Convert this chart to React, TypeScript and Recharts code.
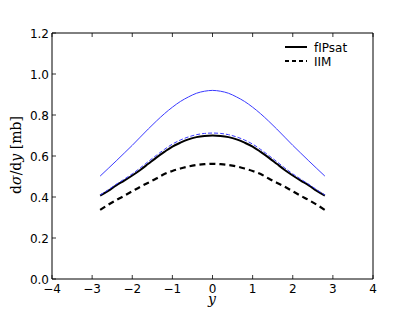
import { LineChart, Line, XAxis, YAxis } from 'recharts';

// rapidity points (x axis)
const rapidity = [-2.8, -2.6, -2.4, -2.2, -2.0, -1.8, -1.6, -1.4, -1.2, -1.0, -0.8, -0.6, -0.4, -0.2, 0, 0.2, 0.4, 0.6, 0.8, 1.0, 1.2, 1.4, 1.6, 1.8, 2.0, 2.2, 2.4, 2.6, 2.8];

// fIPsat (black solid)
const fipsat = [0.407, 0.430, 0.457, 0.480, 0.505, 0.532, 0.562, 0.592, 0.620, 0.646, 0.665, 0.681, 0.692, 0.698, 0.700, 0.698, 0.692, 0.681, 0.665, 0.646, 0.620, 0.592, 0.562, 0.532, 0.505, 0.480, 0.457, 0.430, 0.407];
// IIM (black dashed)
const iim = [0.337, 0.362, 0.385, 0.406, 0.428, 0.450, 0.470, 0.490, 0.512, 0.527, 0.539, 0.549, 0.556, 0.560, 0.562, 0.560, 0.556, 0.549, 0.539, 0.527, 0.512, 0.490, 0.470, 0.450, 0.428, 0.406, 0.385, 0.362, 0.337];
// blue thin solid
const blueSolid = [0.502, 0.539, 0.576, 0.614, 0.652, 0.692, 0.732, 0.770, 0.806, 0.838, 0.866, 0.888, 0.906, 0.916, 0.920, 0.916, 0.906, 0.888, 0.866, 0.838, 0.806, 0.770, 0.732, 0.692, 0.652, 0.614, 0.576, 0.539, 0.502];
// blue thin dashed
const blueDashed = [0.410, 0.435, 0.462, 0.487, 0.513, 0.542, 0.573, 0.603, 0.632, 0.658, 0.678, 0.693, 0.704, 0.710, 0.712, 0.710, 0.704, 0.693, 0.678, 0.658, 0.632, 0.603, 0.573, 0.542, 0.513, 0.487, 0.462, 0.435, 0.410];

const xTicks = [-4, -3, -2, -1, 0, 1, 2, 3, 4];
const yTicks = [0, 0.2, 0.4, 0.6, 0.8, 1.0, 1.2];

const data = rapidity.map((r, i) => ({
  rap: r,
  fipsat: fipsat[i],
  iim: iim[i],
  blueSolid: blueSolid[i],
  blueDashed: blueDashed[i],
}));

const FONT = '"DejaVu Sans", sans-serif';
const fmtX = (v: number) => (v < 0 ? '\u2212' + Math.abs(v) : String(v));

const BottomTick = (props: any) => {
  const { x, y, payload } = props;
  return (
    <g>
      <line x1={x} x2={x} y1={y} y2={y - 4} stroke="#000" strokeWidth={0.8} />
      <text x={x} y={y + 14} textAnchor="middle" fontSize={12} fontFamily={FONT} fill="#000">
        {fmtX(payload.value)}
      </text>
    </g>
  );
};

const TopTick = (props: any) => {
  const { x, y } = props;
  return <line x1={x} x2={x} y1={y} y2={y + 4} stroke="#000" strokeWidth={0.8} />;
};

const LeftTick = (props: any) => {
  const { x, y, payload } = props;
  return (
    <g>
      <line x1={x} x2={x + 4} y1={y} y2={y} stroke="#000" strokeWidth={0.8} />
      <text x={x - 3} y={y + 4.5} textAnchor="end" fontSize={12} fontFamily={FONT} fill="#000">
        {payload.value.toFixed(1)}
      </text>
    </g>
  );
};

const RightTick = (props: any) => {
  const { x, y } = props;
  return <line x1={x} x2={x - 4} y1={y} y2={y} stroke="#000" strokeWidth={0.8} />;
};

export default function App() {
  return (
    <div style={{ position: 'absolute', left: 0, top: 0, width: 415, height: 312, background: '#fff' }}>
      <LineChart width={415} height={312} data={data} margin={{ top: 32, right: 41, bottom: 0, left: 0 }}>
        <XAxis
          dataKey="rap"
          type="number"
          domain={[-4, 4]}
          ticks={xTicks}
          height={33}
          tickSize={0}
          tickMargin={0}
          tickLine={false}
          tick={<BottomTick />}
          axisLine={{ stroke: '#000' }}
          interval={0}
        />
        <XAxis
          xAxisId="top"
          orientation="top"
          dataKey="rap"
          type="number"
          domain={[-4, 4]}
          ticks={xTicks}
          height={1}
          tickSize={0}
          tickMargin={0}
          tickLine={false}
          tick={<TopTick />}
          axisLine={{ stroke: '#000' }}
          interval={0}
        />
        <YAxis
          type="number"
          domain={[0, 1.2]}
          ticks={yTicks}
          width={52}
          tickSize={0}
          tickMargin={0}
          tickLine={false}
          tick={<LeftTick />}
          axisLine={{ stroke: '#000' }}
          interval={0}
        />
        <YAxis
          yAxisId="right"
          orientation="right"
          type="number"
          domain={[0, 1.2]}
          ticks={yTicks}
          width={1}
          tickSize={0}
          tickMargin={0}
          tickLine={false}
          tick={<RightTick />}
          axisLine={{ stroke: '#000' }}
          interval={0}
        />
        <Line type="monotone" dataKey="fipsat" stroke="#000" strokeWidth={2} dot={false} isAnimationActive={false} />
        <Line type="monotone" dataKey="iim" stroke="#000" strokeWidth={2.2} strokeDasharray="6 4" dot={false} isAnimationActive={false} />
        <Line type="monotone" dataKey="blueSolid" stroke="#3a3aff" strokeWidth={1} dot={false} isAnimationActive={false} />
        <Line type="monotone" dataKey="blueDashed" stroke="#3a3aff" strokeWidth={1} strokeDasharray="4 2" dot={false} isAnimationActive={false} />
      </LineChart>

      {/* axis titles and legend */}
      <svg width={415} height={312} style={{ position: 'absolute', left: 0, top: 0, pointerEvents: 'none' }}>
        <text
          transform="translate(21,155) rotate(-90)"
          textAnchor="middle"
          fontSize={14}
          fontFamily='"DejaVu Serif", serif'
          fill="#000"
        >
          d<tspan fontStyle="italic">σ</tspan>/d<tspan fontStyle="italic">y</tspan> [mb]
        </text>
        <text x={212} y={304} textAnchor="middle" fontSize={14} fontStyle="italic" fontFamily='"DejaVu Serif", serif' fill="#000">
          y
        </text>
        <line x1={285} x2={307} y1={47} y2={47} stroke="#000" strokeWidth={2} />
        <text x={314} y={51.5} fontSize={12} fontFamily={FONT} fill="#000">fIPsat</text>
        <line x1={285} x2={307} y1={61} y2={61} stroke="#000" strokeWidth={2} strokeDasharray="4 3" />
        <text x={314} y={65.5} fontSize={12} fontFamily={FONT} fill="#000">IIM</text>
      </svg>
    </div>
  );
}
